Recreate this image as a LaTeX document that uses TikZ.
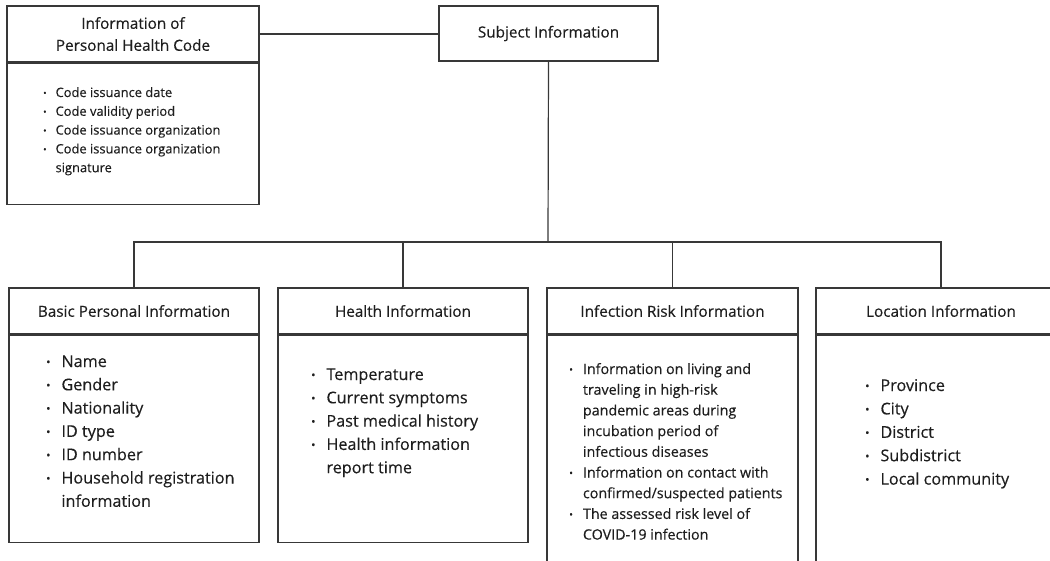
\documentclass[tikz,border=0pt]{standalone}
\usepackage{fontspec}
\setmainfont{Open Sans}[FakeBold=0.35]
\definecolor{linegray}{HTML}{383838}
\definecolor{textgray}{HTML}{1E1E1E}
\newcommand{\dotitem}{\raisebox{0.12ex}{\scalebox{0.7}{\textbullet}}}
\tikzset{
	box/.style={draw=linegray, line width=1.2pt, inner sep=0pt},
	head/.style={box, align=center, text=textgray, font=\fontsize{15.3}{22}\selectfont},
	lst/.style={inner sep=0pt, anchor=base west, text=textgray},
	conn/.style={draw=linegray, line width=1.2pt}
}
\begin{document}
\begin{tikzpicture}[x=1pt,y=-1pt]
\useasboundingbox (0,0) rectangle (1050,560);

% top row
\node[head, minimum width=252pt, minimum height=56pt] (phc) at (133,34) {Information of\\Personal Health Code};
\node[box, minimum width=252pt, minimum height=141pt, anchor=north] (phcbody) at (phc.south) {};
\node[head, minimum width=219pt, minimum height=55pt] (subj) at (548.5,33.5) {Subject Information};

\node[lst, font=\fontsize{12.9}{18.8}\selectfont] (phclist) at (43,97) {\begin{tabular}[t]{@{}l@{\hspace{9pt}}l@{}}
\dotitem & Code issuance date\\
\dotitem & Code validity period\\
\dotitem & Code issuance organization\\
\dotitem & Code issuance organization\\
 & signature
\end{tabular}};

% bottom row
\node[head, minimum width=250pt, minimum height=46pt] (basic) at (134,311) {Basic Personal Information};
\node[head, minimum width=250pt, minimum height=46pt] (health) at (403,311) {Health Information};
\node[head, minimum width=251pt, minimum height=46pt] (risk) at (672.5,311) {Infection Risk Information};
\node[head, minimum width=250pt, minimum height=46pt] (loc) at (941,311) {Location Information};

\node[box, minimum width=250pt, minimum height=207pt, anchor=north] (basicbody) at (basic.south) {};
\node[box, minimum width=250pt, minimum height=207pt, anchor=north] (healthbody) at (health.south) {};
\node[box, minimum width=251pt, minimum height=240pt, anchor=north] (riskbody) at (risk.south) {};
\node[box, minimum width=250pt, minimum height=240pt, anchor=north] (locbody) at (loc.south) {};

\node[lst, font=\fontsize{16.2}{23.3}\selectfont] (basiclist) at (46,367) {\begin{tabular}[t]{@{}l@{\hspace{11pt}}l@{}}
\dotitem & Name\\
\dotitem & Gender\\
\dotitem & Nationality\\
\dotitem & ID type\\
\dotitem & ID number\\
\dotitem & Household registration\\
 & information
\end{tabular}};

\node[lst, font=\fontsize{16.2}{23.3}\selectfont] (healthlist) at (311,380) {\begin{tabular}[t]{@{}l@{\hspace{11pt}}l@{}}
\dotitem & Temperature\\
\dotitem & Current symptoms\\
\dotitem & Past medical history\\
\dotitem & Health information\\
 & report time
\end{tabular}};

\node[lst, font=\fontsize{14.3}{20.7}\selectfont] (risklist) at (569,374) {\begin{tabular}[t]{@{}l@{\hspace{10pt}}l@{}}
\dotitem & Information on living and\\
 & traveling in high-risk\\
 & pandemic areas during\\
 & incubation period of\\
 & infectious diseases\\
\dotitem & Information on contact with\\
 & confirmed/suspected patients\\
\dotitem & The assessed risk level of\\
 & COVID-19 infection
\end{tabular}};

\node[lst, font=\fontsize{16.2}{23.4}\selectfont] (loclist) at (865,391) {\begin{tabular}[t]{@{}l@{\hspace{11pt}}l@{}}
\dotitem & Province\\
\dotitem & City\\
\dotitem & District\\
\dotitem & Subdistrict\\
\dotitem & Local community
\end{tabular}};

% connectors
\coordinate (bus) at (548,242);
\draw[conn] (phc.east) -- (phc.east -| subj.west);
\draw[conn] (subj.south) -- (bus);
\draw[conn] (basic.north) |- (bus) -| (loc.north);
\draw[conn] (health.north) -- (health.north |- bus);
\draw[conn] (risk.north) -- (risk.north |- bus);

\end{tikzpicture}
\end{document}
